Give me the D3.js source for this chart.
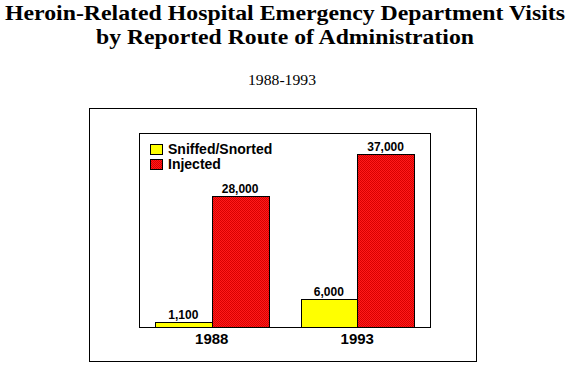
<!DOCTYPE html>
<html><head><meta charset="utf-8">
<script src="https://cdn.jsdelivr.net/npm/d3@7"></script>
<style>body{margin:0;background:#fff}svg{display:block}</style>
</head><body>
<script>
const years = ["1988", "1993"];
const seriesNames = ["Sniffed/Snorted", "Injected"];
const sniffed = [1100, 6000];
const injected = [28000, 37000];
const valueLabels = [["1,100", "6,000"], ["28,000", "37,000"]];
const titleLines = ["Heroin-Related Hospital Emergency Department Visits", "by Reported Route of Administration"];
const subtitle = "1988-1993";

const W = 572, H = 365;
const svg = d3.select("body").append("svg").attr("width", W).attr("height", H);
const defs = svg.append("defs");
const pat = defs.append("pattern").attr("id", "redpat").attr("patternUnits", "userSpaceOnUse")
  .attr("width", 2).attr("height", 2);
pat.append("rect").attr("width", 2).attr("height", 2).attr("fill", "#ff1a1a");
pat.append("rect").attr("width", 1).attr("height", 1).attr("fill", "#d80000");
pat.append("rect").attr("x", 1).attr("y", 1).attr("width", 1).attr("height", 1).attr("fill", "#d80000");
const colors = ["#ffff00", "url(#redpat)"];

// titles
const titleWidths = [560, 378];
svg.selectAll("text.title").data(titleLines).join("text")
  .attr("class", "title")
  .attr("x", 285).attr("y", (d, i) => 20 + i * 24)
  .attr("text-anchor", "middle")
  .attr("font-family", "Liberation Serif, Times New Roman, serif")
  .attr("font-weight", "bold").attr("font-size", 22)
  .attr("textLength", (d, i) => titleWidths[i]).attr("lengthAdjust", "spacingAndGlyphs")
  .text(d => d);
svg.append("text").attr("x", 282).attr("y", 85).attr("text-anchor", "middle")
  .attr("font-family", "Liberation Serif, Times New Roman, serif").attr("font-size", 15)
  .attr("textLength", 68).attr("lengthAdjust", "spacingAndGlyphs")
  .text(subtitle);

// outer frame
svg.append("rect").attr("x", 89.5).attr("y", 108.5).attr("width", 387).attr("height", 253)
  .attr("fill", "none").attr("stroke", "#000");

const pL = 139, pR = 430, pT = 133, pB = 327;
const x = d3.scaleBand().domain(years).range([pL, pR]).paddingInner(0.22).paddingOuter(0.11);
const xs = d3.scaleBand().domain([0, 1]).range([0, x.bandwidth()]);
const y = d3.scaleLinear().domain([0, 41500]).range([pB, pT]);

svg.append("rect").attr("x", pL + 0.5).attr("y", pT + 0.5).attr("width", pR - pL).attr("height", pB - pT)
  .attr("fill", "none").attr("stroke", "#000");

const series = [sniffed, injected];
series.forEach((vals, s) => {
  const g = svg.append("g");
  g.selectAll("rect").data(vals).join("rect")
    .attr("x", (d, i) => Math.round(x(years[i]) + xs(s)) + 0.5)
    .attr("y", d => Math.round(y(d)) + 0.5)
    .attr("width", Math.round(xs.bandwidth()))
    .attr("height", d => pB - Math.round(y(d)))
    .attr("fill", colors[s]).attr("stroke", "#000");
  g.selectAll("text").data(vals).join("text")
    .attr("x", (d, i) => x(years[i]) + xs(s) + xs.bandwidth() / 2)
    .attr("y", d => y(d) - 3)
    .attr("text-anchor", "middle")
    .attr("font-family", "Liberation Sans, Arial, sans-serif").attr("font-weight", "bold").attr("font-size", 12)
    .text((d, i) => valueLabels[s][i]);
});

// x axis labels
const xAxis = d3.axisBottom(x).tickSize(0).tickPadding(6);
const ax = svg.append("g").attr("transform", `translate(0,${pB})`).call(xAxis);
ax.select(".domain").remove();
ax.selectAll("text").attr("font-family", "Liberation Sans, Arial, sans-serif").attr("font-weight", "bold")
  .attr("font-size", 15).attr("fill", "#000").attr("dy", "0.71em");

// legend
const lg = svg.append("g");
seriesNames.forEach((n, i) => {
  lg.append("rect").attr("x", 150.5).attr("y", 144.5 + i * 15).attr("width", 12).attr("height", 10)
    .attr("fill", colors[i]).attr("stroke", "#000");
  lg.append("text").attr("x", 168).attr("y", 154 + i * 15)
    .attr("font-family", "Liberation Sans, Arial, sans-serif").attr("font-weight", "bold").attr("font-size", 14)
    .text(n);
});
</script>
</body></html>
